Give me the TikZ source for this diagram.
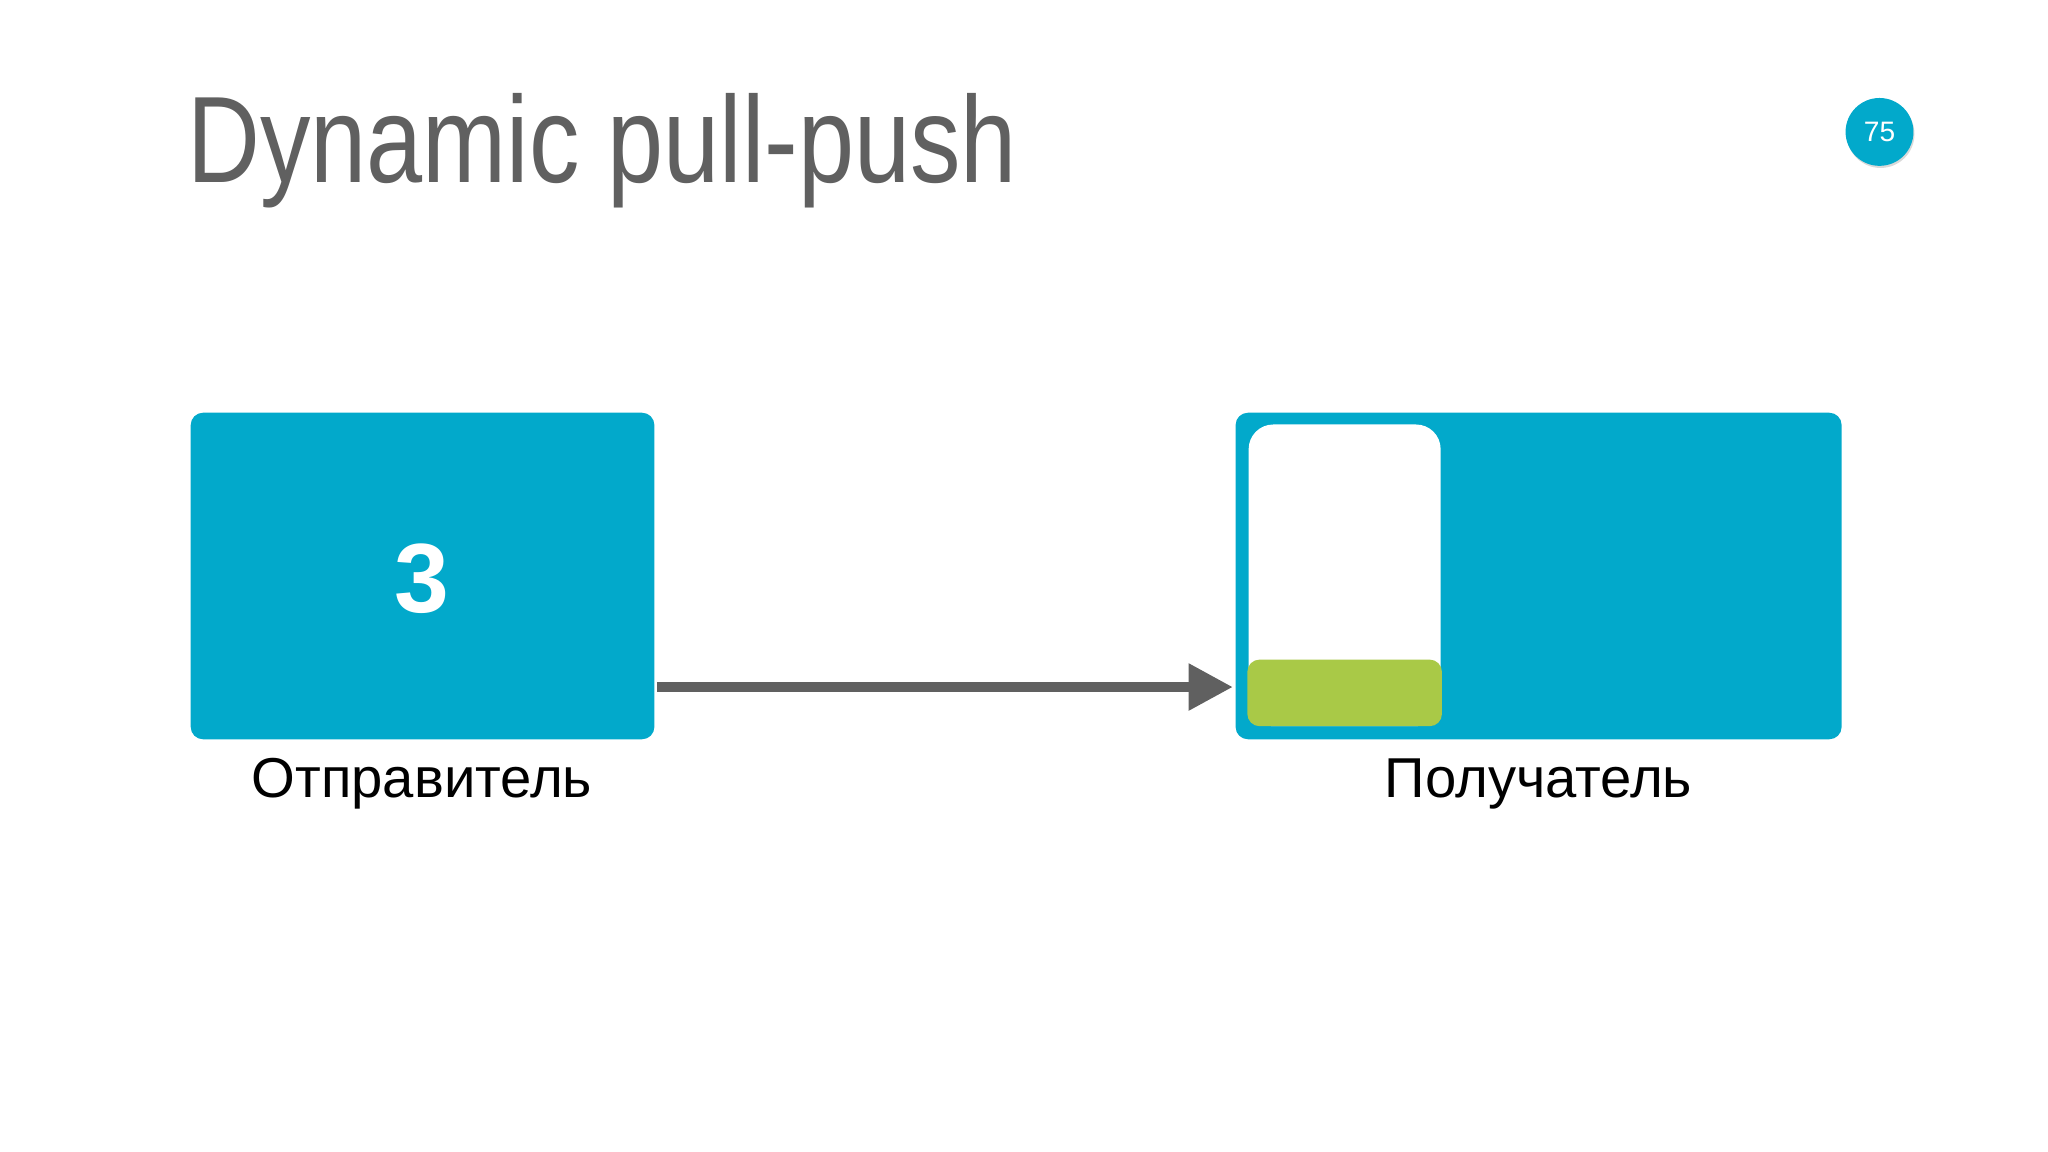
\documentclass[tikz,border=0pt]{standalone}
\usepackage{fontspec}
\setmainfont{Liberation Sans}
\usetikzlibrary{arrows.meta,shadows}
\definecolor{cy}{HTML}{02A9CB}
\definecolor{gr}{HTML}{A9C947}
\definecolor{tg}{HTML}{606060}
\tikzset{box/.style={fill=cy,rounded corners=3.5pt},
lbl/.style={font=\fontsize{16}{18}\selectfont,text=black}}
\begin{document}
\begin{tikzpicture}[x=0.013061cm,y=-0.013061cm]
\useasboundingbox (0,0) rectangle (1568,882);
\node[anchor=base west,text=tg,inner sep=0,font=\fontsize{35}{40}\selectfont,xscale=0.82] (title) at (143,140) {Dynamic pull-push};
\node[circle,fill=cy,minimum size=52*0.3713pt,inner sep=0,text=white,font=\fontsize{8}{9}\selectfont,drop shadow={opacity=0.3,shadow xshift=0.3pt,shadow yshift=-0.6pt}] (num) at (1439,101) {75};
\fill[box] (146,316) rectangle (501,566);
\node[font=\bfseries\fontsize{28}{30}\selectfont,text=white] (three) at (323,443) {3};
\node[lbl] (l1) at (323,600) {Отправитель};
\fill[box] (946,316) rectangle (1410,566);
\coordinate (recv) at (944,526);
\coordinate (send) at (503,526);
\fill[white,rounded corners=7pt] (956,325) rectangle (1103,556);
\fill[gr,rounded corners=3.5pt] (955,505) rectangle (1104,556);
\node[lbl] (l2) at (1178,600) {Получатель};
\draw[tg,line width=3pt,-{Triangle[length=12.6pt,width=12.6pt]}] (send) -- (recv);
\end{tikzpicture}
\end{document}
